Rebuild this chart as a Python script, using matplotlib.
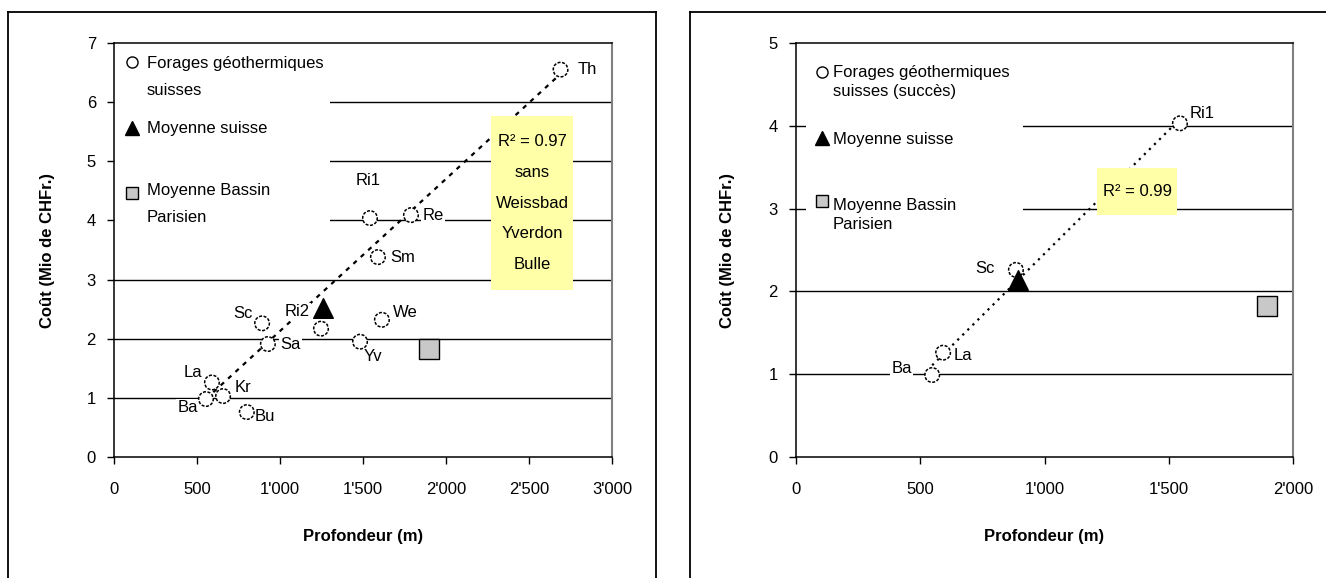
import numpy as np
import matplotlib.pyplot as plt
from matplotlib.lines import Line2D
from matplotlib.patches import Rectangle
from matplotlib.ticker import FuncFormatter, MultipleLocator

plt.rcParams['font.family'] = ['Liberation Sans', 'DejaVu Sans']

# Forages géothermiques suisses (tous)
noms_tous = ['Th', 'Ri1', 'Re', 'Sm', 'We', 'Yv', 'Ri2', 'Sc', 'Sa', 'La', 'Kr', 'Ba', 'Bu']
prof_tous = [2690, 1542, 1789, 1590, 1614, 1482, 1247, 892, 927, 590, 657, 554, 800]
cout_tous = [6.55, 4.04, 4.09, 3.38, 2.32, 1.95, 2.17, 2.26, 1.91, 1.26, 1.03, 0.98, 0.76]
exclus = ['We', 'Yv', 'Bu']  # sans Weissbad, Yverdon, Bulle

# Forages géothermiques suisses (succès)
noms_succes = ['Ri1', 'Sc', 'La', 'Ba']
prof_succes = [1545, 885, 592, 548]
cout_succes = [4.03, 2.26, 1.26, 0.99]

# Moyenne Bassin Parisien
bp_prof = 1895
bp_cout = 1.82

legende_1 = ['Forages géothermiques\nsuisses', 'Moyenne suisse', 'Moyenne Bassin\nParisien']
legende_2 = ['Forages géothermiques\nsuisses (succès)', 'Moyenne suisse', 'Moyenne Bassin\nParisien']

# decalage des etiquettes (points)
decal_tous = {'Th': (19, 0), 'Ri1': (-1, 27), 'Re': (16, 0), 'Sm': (18, 0),
              'We': (17, 5), 'Yv': (9, -11), 'Ri2': (-17, 12), 'Sc': (-14, 7),
              'Sa': (16, 0), 'La': (-14, 7), 'Kr': (14, 6), 'Ba': (-13, -6),
              'Bu': (13, -3)}
decal_succes = {'Ri1': (16, 7), 'Sc': (-22, 1), 'La': (14, -2), 'Ba': (-22, 5)}

FS = 12
GRIS = '#c8c8c8'


def apostrophe(v, pos):
    return f"{int(v):,}".replace(',', "'")


def legende(ax, labels, fond, hx, tx, lignes, dy, marques_y):
    # legende faite a la main: symbole sur la premiere ligne du texte
    ax.add_patch(Rectangle((fond[0], fond[1]), fond[2] - fond[0], fond[3] - fond[1],
                           transform=ax.transAxes, fc='white', ec='none', zorder=1.5))
    styles = [dict(marker='o', ms=8, mfc='white', mec='black', mew=1),
              dict(marker='^', ms=10, mfc='black', mec='black'),
              dict(marker='s', ms=8, mfc=GRIS, mec='black', mew=1)]
    for lab, y0, ym, st in zip(labels, lignes, marques_y, styles):
        ax.plot([hx], [ym], ls='none', transform=ax.transAxes, zorder=4,
                clip_on=False, **st)
        for i, l in enumerate(lab.split('\n')):
            ax.text(tx, y0 - i * dy, l, transform=ax.transAxes, fontsize=FS,
                    va='baseline', ha='left', zorder=4)


def panneau(ax, noms, prof, cout, decal, ymax, xmax, fit_mask, ls_fit, r2_text,
            r2_box, r2_ls):
    prof = np.array(prof, dtype=float)
    cout = np.array(cout, dtype=float)

    ax.set_xlim(0, xmax)
    ax.set_ylim(0, ymax)
    ax.xaxis.set_major_locator(MultipleLocator(500))
    ax.yaxis.set_major_locator(MultipleLocator(1))
    ax.xaxis.set_major_formatter(FuncFormatter(apostrophe))
    for yy in range(1, ymax):
        ax.axhline(yy, color='black', lw=1, zorder=1)

    # droite de regression
    px, py = prof[fit_mask], cout[fit_mask]
    a, b = np.polyfit(px, py, 1)
    xs = np.array([px.min(), px.max()])
    ax.plot(xs, a * xs + b, color='black', lw=1.6, ls=ls_fit, zorder=2)

    ax.scatter(prof, cout, s=110, facecolor='white', edgecolor='black',
               linewidths=1.1, linestyles=(0, (2, 1)), zorder=6)
    for n, x, y in zip(noms, prof, cout):
        ax.annotate(n, (x, y), xytext=decal[n], textcoords='offset points',
                    ha='center', va='center', fontsize=FS, zorder=5,
                    bbox=dict(fc='white', ec='none', pad=1))

    # moyennes
    ax.scatter([prof.mean()], [cout.mean()], marker='^', s=200, color='black',
               zorder=7)
    ax.scatter([bp_prof], [bp_cout], marker='s', s=190, facecolor=GRIS,
               edgecolor='black', linewidths=1, zorder=7)

    x0, y0, x1, y1 = r2_box
    ax.add_patch(Rectangle((x0, y0), x1 - x0, y1 - y0, transform=ax.transAxes,
                           fc='#ffffa8', ec='none', zorder=8))
    ax.text((x0 + x1) / 2, (y0 + y1) / 2, r2_text, transform=ax.transAxes,
            ha='center', va='center', fontsize=FS, linespacing=r2_ls, zorder=9)

    for s in ['left', 'bottom', 'top']:
        ax.spines[s].set_color('black')
        ax.spines[s].set_linewidth(1.1)
    ax.spines['right'].set_color('#808080')
    ax.spines['right'].set_linewidth(1.5)
    ax.tick_params(axis='y', direction='out', length=5, width=1, pad=8, labelsize=FS)
    ax.tick_params(axis='x', direction='out', length=5, width=1, pad=13, labelsize=FS)

    ax.set_xlabel('Profondeur (m)', fontsize=12, fontweight='bold')
    ax.xaxis.set_label_coords(0.5, -0.193)
    ax.xaxis.label.set_va('center')
    ax.set_ylabel('Coût (Mio de CHFr.)', fontsize=12, fontweight='bold')


fig = plt.figure(figsize=(13.26, 5.78), dpi=100)
ax1 = fig.add_axes([114 / 1326, 1 - 457 / 578, 498 / 1326, 414 / 578])
ax2 = fig.add_axes([796 / 1326, 1 - 457 / 578, 497 / 1326, 414 / 578])

masque = np.array([n not in exclus for n in noms_tous])
panneau(ax1, noms_tous, prof_tous, cout_tous, decal_tous, 7, 3000, masque,
        (0, (2, 2.5)), 'R² = 0.97\nsans\nWeissbad\nYverdon\nBulle',
        (0.757, 0.403, 0.922, 0.824), 2.3)
ax1.yaxis.set_label_coords(-0.118, 0.5)
legende(ax1, legende_1, (0.0, 0.536, 0.434, 1.0), 0.036, 0.066,
        [0.9396, 0.7826, 0.633], 0.066, [0.954, 0.795, 0.637])

panneau(ax2, noms_succes, prof_succes, cout_succes, decal_succes, 5, 2000,
        np.ones(4, bool), (0, (1, 2.2)), 'R² = 0.99',
        (0.606, 0.585, 0.767, 0.698), 1.2)
ax2.yaxis.set_label_coords(-0.123, 0.5)
legende(ax2, legende_2, (0.02, 0.524, 0.457, 1.0), 0.052, 0.074,
        [0.918, 0.756, 0.597], 0.047, [0.930, 0.771, 0.618])

# cadres exterieurs
W, H = 1326, 578
for (x0, y0, x1, y1) in [(8, 12, 8, 580), (8, 12, 656, 12), (656, 12, 656, 580),
                         (690, 12, 690, 580), (690, 12, 1330, 12)]:
    fig.add_artist(Line2D([x0 / W, x1 / W], [1 - y0 / H, 1 - y1 / H],
                          color='black', lw=1.3))

fig.savefig('out.png', dpi=100)
